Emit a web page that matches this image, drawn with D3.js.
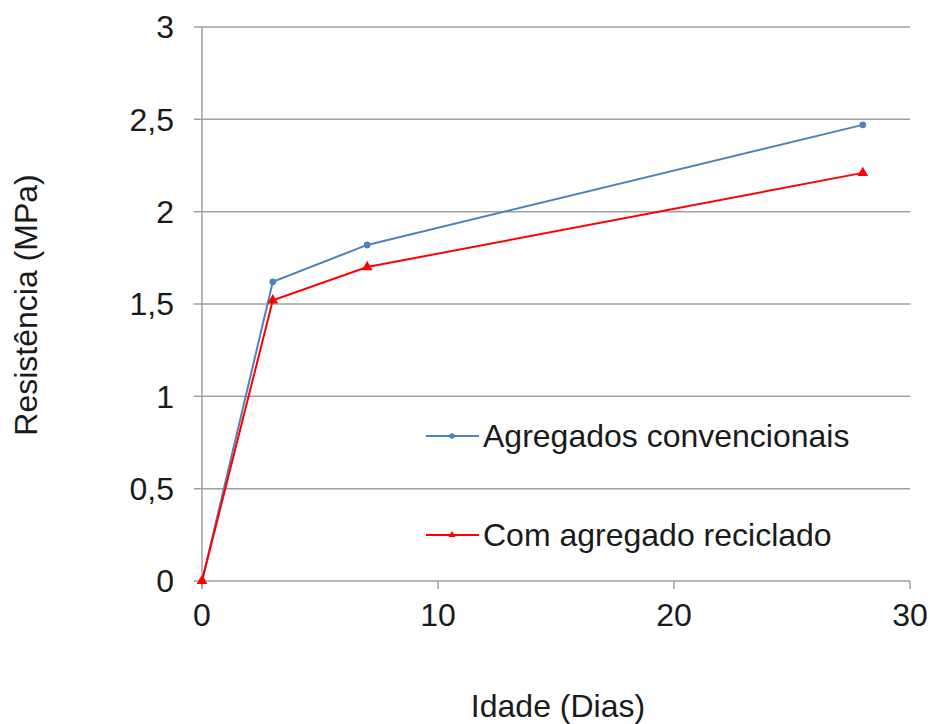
<!DOCTYPE html>
<html>
<head>
<meta charset="utf-8">
<script src="https://cdn.jsdelivr.net/npm/d3@7"></script>
<style>
  body { margin: 0; background: #fff; }
  text { font-family: "Liberation Sans", Arial, sans-serif; fill: #1a1a1a; }
</style>
</head>
<body>
<svg id="chart" width="930" height="724"></svg>
<script>
// data
const dias = [0, 3, 7, 28];
const convencionais = [0, 1.62, 1.82, 2.47];
const reciclado = [0, 1.52, 1.70, 2.21];
const xTicks = [0, 10, 20, 30];
const yTicks = [0, 0.5, 1, 1.5, 2, 2.5, 3];

const svg = d3.select("#chart");
const margin = { top: 27, left: 202, right: 20, bottom: 143 };
const width = 910 - margin.left;
const height = 581 - margin.top;
const fs = 32;

const x = d3.scaleLinear().domain([0, 30]).range([0, width]);
const y = d3.scaleLinear().domain([0, 3]).range([height, 0]);
const fmt = d => String(d).replace(".", ",");

const g = svg.append("g").attr("transform", `translate(${margin.left},${margin.top})`);

// horizontal gridlines, with the little tick stubs on the left
g.selectAll(".grid").data(yTicks).join("line")
  .attr("x1", -8).attr("x2", width)
  .attr("y1", d => y(d)).attr("y2", d => y(d))
  .attr("stroke", "#a0a0a0").attr("stroke-width", 1.5);

g.selectAll(".ylab").data(yTicks).join("text")
  .attr("x", -28).attr("y", d => y(d)).attr("dy", "0.35em")
  .attr("text-anchor", "end").attr("font-size", fs)
  .text(fmt);

// y axis line
g.append("line").attr("x1", 0).attr("x2", 0).attr("y1", 0).attr("y2", height + 8)
  .attr("stroke", "#a0a0a0").attr("stroke-width", 1.5);

// x ticks
g.selectAll(".xt").data(xTicks).join("line")
  .attr("x1", d => x(d)).attr("x2", d => x(d))
  .attr("y1", height).attr("y2", height + 8)
  .attr("stroke", "#a0a0a0").attr("stroke-width", 1.5);

g.selectAll(".xlab").data(xTicks).join("text")
  .attr("x", d => x(d)).attr("y", height + 45)
  .attr("text-anchor", "middle").attr("font-size", fs)
  .text(fmt);

// axis titles
svg.append("text").attr("x", 558).attr("y", 717)
  .attr("text-anchor", "middle").attr("font-size", fs).text("Idade (Dias)");
svg.append("text")
  .attr("transform", "translate(37,305) rotate(-90)")
  .attr("text-anchor", "middle").attr("font-size", fs).text("Resistência (MPa)");

const line = d3.line().x(d => x(d[0])).y(d => y(d[1]));
const series = [
  { name: "Agregados convencionais", vals: convencionais, color: "#4f81bd", marker: "circle" },
  { name: "Com agregado reciclado", vals: reciclado, color: "#ff0000", marker: "triangle" }
];

function marker(sel, s, size) {
  const sym = s.marker === "circle" ? d3.symbolCircle : d3.symbolTriangle;
  sel.attr("d", d3.symbol().type(sym).size(size)).attr("fill", s.color);
}

series.forEach(s => {
  const pts = dias.map((d, i) => [d, s.vals[i]]);
  g.append("path").datum(pts).attr("d", line)
    .attr("fill", "none").attr("stroke", s.color).attr("stroke-width", 2);
  g.selectAll(null).data(pts).join("path")
    .attr("transform", d => `translate(${x(d[0])},${y(d[1])})`)
    .call(marker, s, s.marker === "circle" ? 35 : 50);
});

// legend
const legend = svg.append("g");
series.forEach((s, i) => {
  const ly = 436 + i * 99;
  legend.append("line").attr("x1", 426).attr("x2", 479).attr("y1", ly).attr("y2", ly)
    .attr("stroke", s.color).attr("stroke-width", 2);
  legend.append("path").attr("transform", `translate(452,${ly})`).call(marker, s, 22);
  legend.append("text").attr("x", 483).attr("y", ly).attr("dy", "0.35em")
    .attr("font-size", fs).text(s.name);
});
</script>
</body>
</html>
